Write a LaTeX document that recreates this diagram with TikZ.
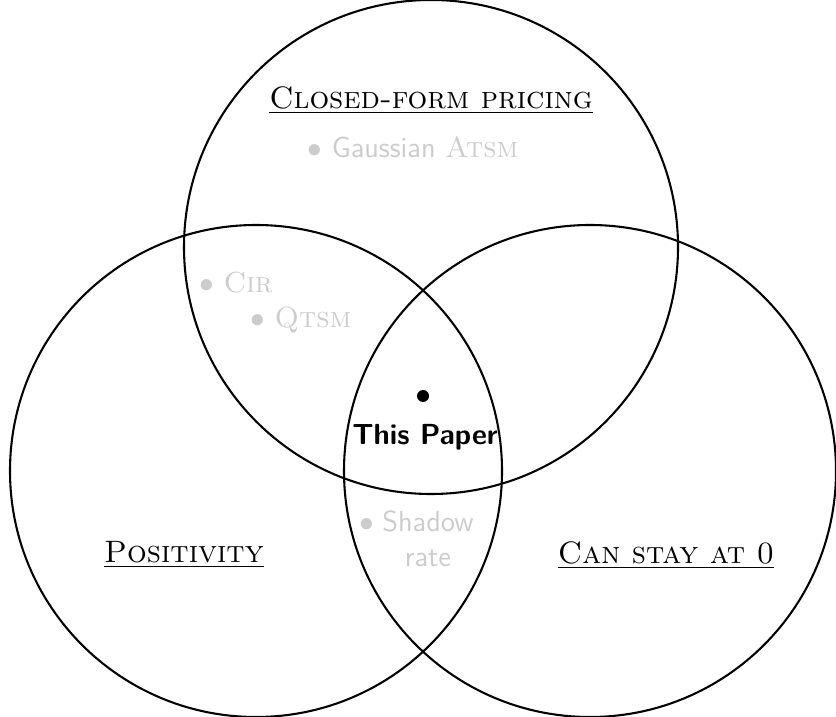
\documentclass[tikz,border=0pt,11pt]{standalone}
\usepackage{tikz}
\usetikzlibrary{positioning}
\colorlet{faded}{black!20}
\tikzset{
  set/.style   ={circle, draw=black, line width=0.85pt, minimum size=#1, inner sep=0pt},
  settitle/.style={font=\fontsize{12.7}{15}\selectfont, text=black},
  member/.style={font=\fontsize{11.9}{14.5}\selectfont\sffamily, text=faded, inner sep=1pt},
}
\begin{document}
\begin{tikzpicture}[x=0.0144cm,y=-0.0144cm]
    \useasboundingbox (0,0) rectangle (836,717);
    % --- the three sets ---
    \node[set=494*0.0144cm] (closed) at (431,247) {};
    \node[set=492*0.0144cm] (positive) at (256,471) {};
    \node[set=492*0.0144cm] (stay) at (590,471) {};
    % --- set titles ---
    \node[settitle] (closedT) at (431,100) {\underline{\textsc{Closed-form pricing}}};
    \node[settitle] (positiveT) at (184,555) {\underline{\textsc{Positivity}}};
    \node[settitle] (stayT) at (666,555) {\underline{\textsc{Can stay at 0}}};
    % --- models ---
    \node[member] (gauss) at (413,147) {$\bullet$ Gaussian \textrm{\textsc{Atsm}}};
    \node[member] (cir) at (236,283) {$\bullet$ \textrm{\textsc{Cir}}};
    \node[member] (qtsm) at (301,320) {$\bullet$ \textrm{\textsc{Qtsm}}};
    \node[member,align=center] (shadow) at (428,539) {Shadow\\rate};
    \node[member] (shadowdot) at (367,525) {$\bullet$};
    % --- this paper ---
    \node[circle,fill=black,minimum size=12*0.0144cm,inner sep=0pt] (dot) at (423,396) {};
    \node[font=\fontsize{11.9}{14.5}\selectfont\sffamily\bfseries,inner sep=1pt] (paper) at (425,437) {This Paper};
\end{tikzpicture}
\end{document}
